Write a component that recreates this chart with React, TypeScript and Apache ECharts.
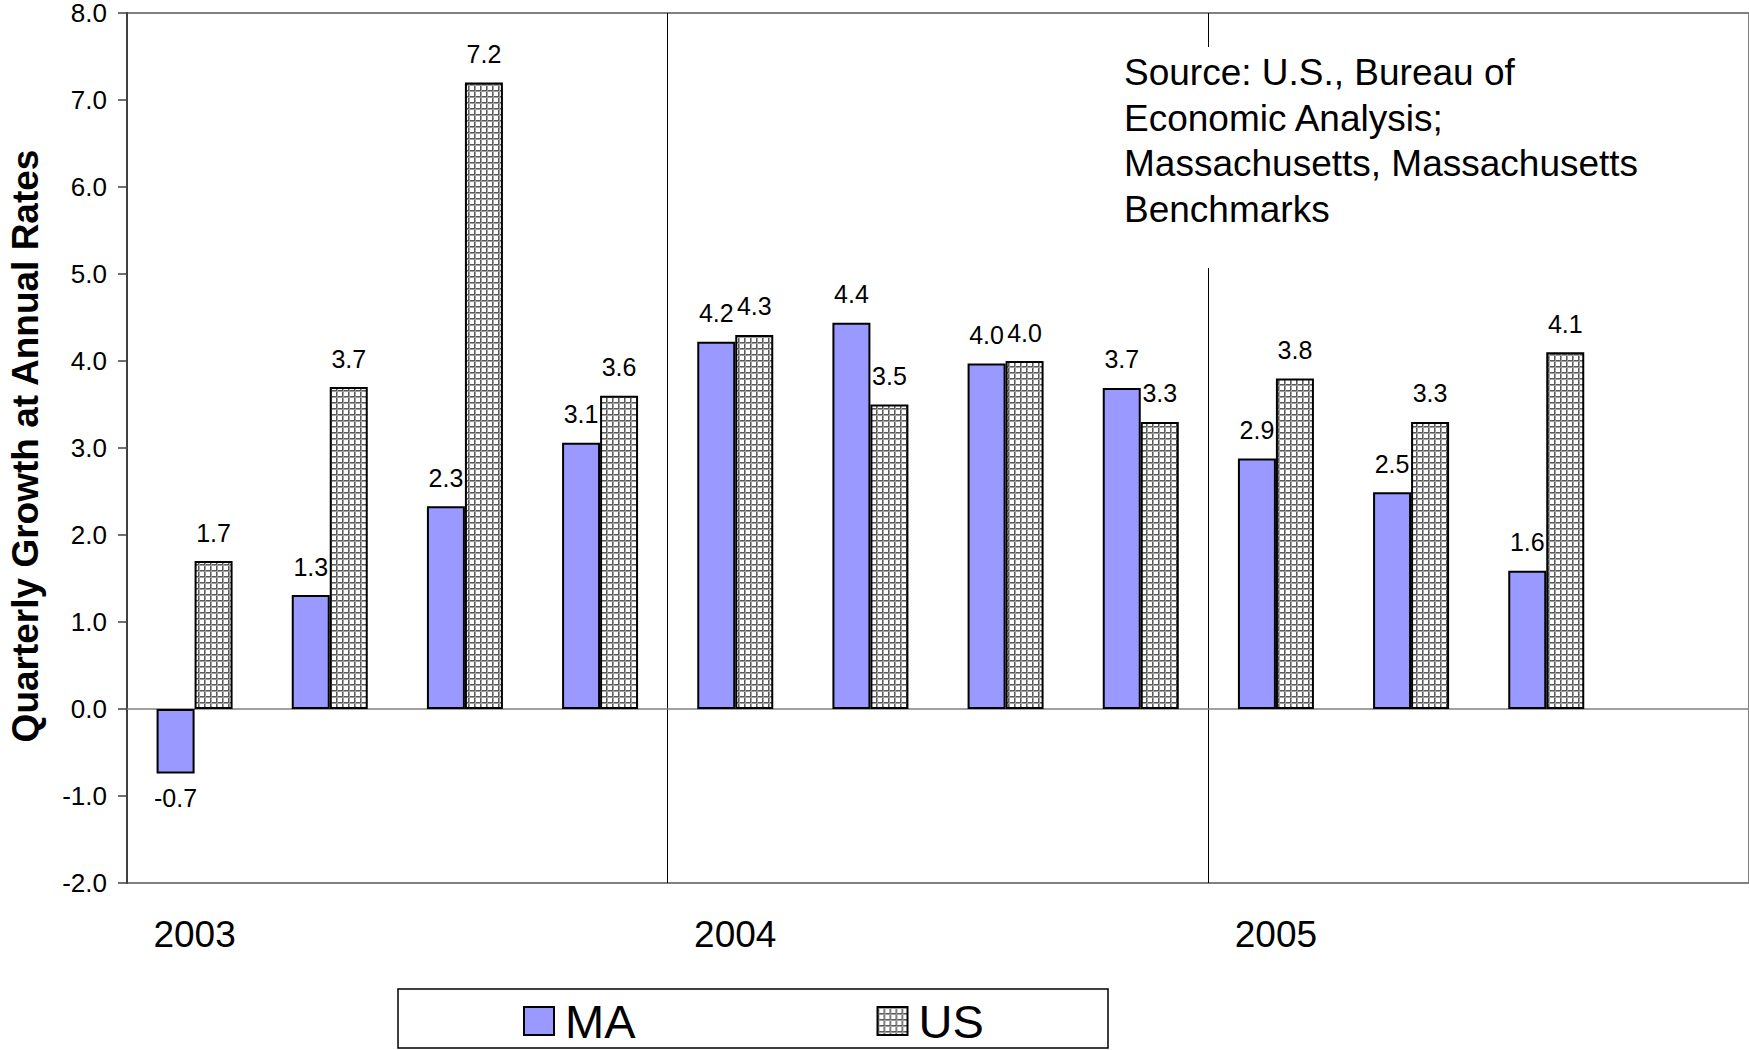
import React, { useEffect, useRef } from "react";
import * as echarts from "echarts";

const categories = [
  "2003 Q1", "2003 Q2", "2003 Q3", "2003 Q4",
  "2004 Q1", "2004 Q2", "2004 Q3", "2004 Q4",
  "2005 Q1", "2005 Q2", "2005 Q3", "2005 Q4",
];
const maValues: (number | null)[] = [-0.74, 1.31, 2.33, 3.06, 4.22, 4.44, 3.97, 3.69, 2.88, 2.49, 1.59, null];
const usValues: (number | null)[] = [1.7, 3.7, 7.2, 3.6, 4.3, 3.5, 4.0, 3.3, 3.8, 3.3, 4.1, null];
const yTicks = { min: -2, max: 8, interval: 1 };
const yTitle = "Quarterly Growth at Annual Rates";
const sourceText = "Source: U.S., Bureau of\nEconomic Analysis;\nMassachusetts, Massachusetts\nBenchmarks";
const seriesNames = ["MA", "US"];

const FONT = '"Liberation Sans", Arial, sans-serif';

function makePattern(): HTMLCanvasElement {
  const c = document.createElement("canvas");
  c.width = 6;
  c.height = 6;
  const ctx = c.getContext("2d")!;
  ctx.fillStyle = "#ffffff";
  ctx.fillRect(0, 0, 6, 6);
  ctx.fillStyle = "#5a5a5a";
  ctx.fillRect(0, 0, 6, 1);
  ctx.fillRect(0, 0, 1, 6);
  ctx.fillStyle = "#a0a0a0";
  ctx.fillRect(0, 1, 6, 1);
  ctx.fillRect(1, 0, 1, 6);
  return c;
}

export default function App() {
  const ref = useRef<HTMLDivElement>(null);
  useEffect(() => {
    if (!ref.current) return;
    const chart = echarts.init(ref.current, undefined, { renderer: "svg" });
    const pattern = makePattern();
    const labelBase = {
      show: true,
      position: "top" as const,
      distance: 16,
      fontSize: 25,
      fontFamily: FONT,
      color: "#000",
      formatter: (p: any) => (p.value == null ? "" : Number(p.value).toFixed(1)),
    };
    const mkData = (arr: (number | null)[]) =>
      arr.map((v) =>
        v == null ? "-" : v < 0 ? { value: v, label: { position: "bottom", distance: 12 } } : v
      );
    const option: any = {
      animation: false,
      backgroundColor: "#fff",
      grid: {
        left: 127,
        top: 11,
        width: 1623,
        height: 872,
        show: true,
        borderColor: "#808080",
        borderWidth: 2,
        backgroundColor: "transparent",
      },
      legend: {
        left: 523,
        top: 996,
        padding: 0,
        itemWidth: 30,
        itemHeight: 28,
        itemGap: 241,
        icon: "rect",
        data: seriesNames,
        textStyle: {
          fontSize: 47,
          lineHeight: 50,
          fontFamily: FONT,
          color: "#000",
          padding: [0, 0, 0, 6],
        },
      },
      xAxis: {
        type: "category",
        data: categories,
        boundaryGap: true,
        axisLine: { show: false, onZero: false },
        axisTick: { show: false },
        axisLabel: {
          interval: 0,
          margin: 33,
          fontSize: 37,
          lineHeight: 37,
          fontFamily: FONT,
          color: "#000",
          formatter: (v: string) => (v.endsWith("Q1") ? v.slice(0, 4) : ""),
        },
        splitLine: {
          show: true,
          interval: (i: number) => i === 4 || i === 8,
          lineStyle: { color: "#000", width: 1 },
        },
      },
      yAxis: {
        type: "value",
        min: yTicks.min,
        max: yTicks.max,
        interval: yTicks.interval,
        axisLine: { show: true, lineStyle: { color: "#404040", width: 2 } },
        axisTick: { show: true, inside: false, length: 9, lineStyle: { color: "#404040", width: 1.5 } },
        splitLine: { show: false },
        axisLabel: {
          margin: 20,
          fontSize: 26,
          lineHeight: 22,
          fontFamily: FONT,
          color: "#000",
          formatter: (v: number) => v.toFixed(1),
        },
      },
      series: [
        {
          name: seriesNames[0],
          type: "bar",
          data: mkData(maValues),
          barWidth: 38,
          barGap: "0%",
          itemStyle: { color: "#9999FF", borderColor: "#000", borderWidth: 2 },
          label: labelBase,
          markLine: {
            silent: true,
            symbol: ["none", "none"],
            label: { show: false },
            lineStyle: { color: "#808080", width: 1.5, type: "solid" },
            data: [{ yAxis: 0 }],
            z: 1,
          },
        },
        {
          name: seriesNames[1],
          type: "bar",
          data: mkData(usValues),
          barWidth: 38,
          barGap: "0%",
          itemStyle: {
            color: { image: pattern, repeat: "repeat", imageWidth: 6, imageHeight: 6 },
            borderColor: "#000",
            borderWidth: 2,
          },
          label: labelBase,
        },
      ],
      graphic: [
        {
          type: "text",
          x: 25,
          y: 446,
          rotation: Math.PI / 2,
          style: {
            text: yTitle,
            font: `bold 37px ${FONT}`,
            fill: "#000",
            align: "center",
            verticalAlign: "middle",
          },
        },
        {
          type: "rect",
          z: 10,
          shape: { x: 1195, y: 47, width: 30, height: 221 },
          style: { fill: "#fff" },
        },
        {
          type: "text",
          z: 11,
          x: 1124,
          y: 50,
          style: {
            text: sourceText,
            font: `37px ${FONT}`,
            lineHeight: 45.5,
            fill: "#000",
            align: "left",
            verticalAlign: "top",
          },
        },
        {
          type: "rect",
          z: 10,
          shape: { x: 398, y: 989, width: 710, height: 59 },
          style: { fill: "none", stroke: "#000", lineWidth: 1.5 },
        },
      ],
    };
    chart.setOption(option);
    return () => chart.dispose();
  }, []);
  return (
    <div
      ref={ref}
      style={{ position: "fixed", left: 0, top: 0, width: 1749, height: 1050, background: "#fff" }}
    />
  );
}
